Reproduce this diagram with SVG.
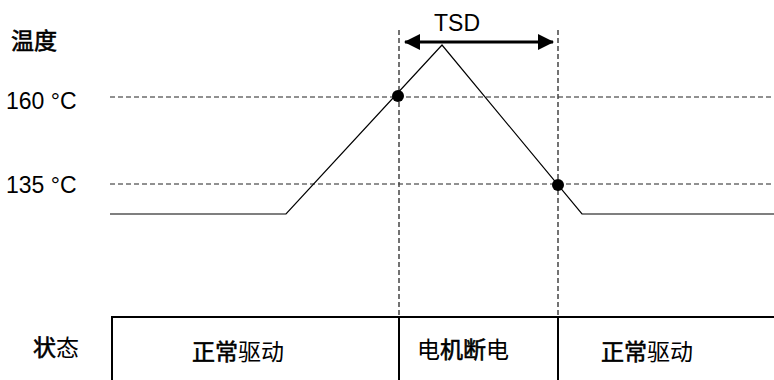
<svg xmlns="http://www.w3.org/2000/svg" width="774" height="380" viewBox="0 0 774 380">
<style>
.t{font-family:"Liberation Sans","Noto Sans CJK SC",sans-serif;font-size:23px;fill:#000}
.c{font-family:"Noto Sans CJK SC","Liberation Sans",sans-serif;font-size:23px;fill:#000}
.b{stroke:#000;stroke-width:0.6}
.dash{stroke:#222;stroke-width:1;stroke-dasharray:5 3;fill:none}
.vdash{stroke:#444;stroke-width:1.5;stroke-dasharray:5 3;fill:none}
.box{stroke:#000;stroke-width:2;fill:none}
</style>
<defs>
<marker id="ah" markerWidth="16" markerHeight="16" refX="15" refY="8" orient="auto-start-reverse" markerUnits="userSpaceOnUse" viewBox="0 0 16 16">
<path d="M0,0 L16,8 L0,16 z" fill="#000"/>
</marker>
</defs>
<rect width="774" height="380" fill="#fff"/>
<g id="grid">
<line class="dash" x1="110" y1="97" x2="774" y2="97"/>
<line class="dash" x1="110" y1="184" x2="774" y2="184"/>
<line class="vdash" x1="399" y1="30" x2="399" y2="318"/>
<line class="vdash" x1="558" y1="30" x2="558" y2="318"/>
</g>
<g id="connectors">
<polyline points="110,214 286,214 442,45 582,214 774,214" fill="none" stroke="#000" stroke-width="1.2"/>
<line x1="405" y1="42" x2="553" y2="42" stroke="#000" stroke-width="3" marker-start="url(#ah)" marker-end="url(#ah)"/>
</g>
<g id="points">
<circle cx="398" cy="96" r="6" fill="#000"/>
<circle cx="558" cy="185" r="6" fill="#000"/>
</g>
<g id="labels">
<text class="c b" x="11" y="49" font-size="22">温度</text>
<text class="t" x="6" y="109">160 °C</text>
<text class="t" x="6" y="193">135 °C</text>
<text class="t" x="434" y="31">TSD</text>
<text class="c" x="33" y="356" font-size="22"><tspan class="b">状</tspan>态</text>
</g>
<g id="state-table">
<line class="box" x1="112" y1="317" x2="774" y2="317"/>
<line class="box" x1="112" y1="316" x2="112" y2="380"/>
<line class="box" x1="399" y1="316" x2="399" y2="380"/>
<line class="box" x1="558" y1="316" x2="558" y2="380"/>
</g>
<g id="state-normal-1"><text class="c" x="192" y="360"><tspan class="b">正常</tspan>驱动</text></g>
<g id="state-off"><text class="c" x="417" y="358">电<tspan class="b">机断</tspan>电</text></g>
<g id="state-normal-2"><text class="c" x="601" y="360"><tspan class="b">正常</tspan>驱动</text></g>
</svg>
